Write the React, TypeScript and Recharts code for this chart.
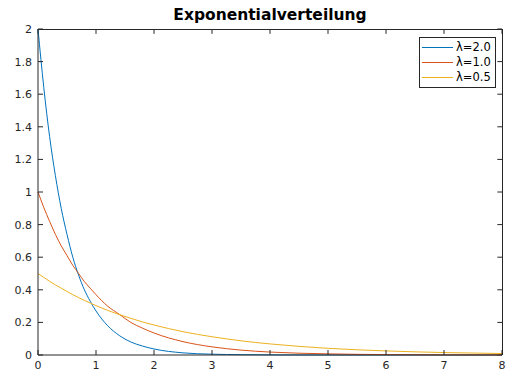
import React from 'react';
import { LineChart, Line, XAxis, YAxis, ReferenceLine } from 'recharts';

// x positions sampled along the curves
const xs = [0, 0.1, 0.2, 0.3, 0.4, 0.5, 0.6, 0.7, 0.8, 0.9, 1.0, 1.2, 1.4, 1.6, 1.8, 2.0, 2.5, 3, 3.5, 4, 5, 6, 7, 8];

// values
const lambda20 = [2.0, 1.64, 1.34, 1.1, 0.9, 0.74, 0.6, 0.49, 0.4, 0.33, 0.27, 0.18, 0.12, 0.08, 0.055, 0.037, 0.013, 0.005, 0.002, 0.0007, 0.0001, 0, 0, 0];
const lambda10 = [1.0, 0.905, 0.82, 0.74, 0.67, 0.61, 0.55, 0.5, 0.45, 0.41, 0.37, 0.3, 0.25, 0.2, 0.165, 0.135, 0.082, 0.05, 0.03, 0.018, 0.007, 0.0025, 0.0009, 0.0003];
const lambda05 = [0.5, 0.476, 0.452, 0.43, 0.41, 0.39, 0.37, 0.352, 0.335, 0.319, 0.303, 0.274, 0.248, 0.225, 0.203, 0.184, 0.143, 0.112, 0.087, 0.068, 0.041, 0.025, 0.015, 0.009];

const xTicks = [0, 1, 2, 3, 4, 5, 6, 7, 8];
const yTicks = [0, 0.2, 0.4, 0.6, 0.8, 1, 1.2, 1.4, 1.6, 1.8, 2];

const series = [
  { key: 'l20', name: 'λ=2.0', color: '#0072BD' },
  { key: 'l10', name: 'λ=1.0', color: '#D95319' },
  { key: 'l05', name: 'λ=0.5', color: '#EDB120' },
];

const data = xs.map((x, i) => ({ x, l20: lambda20[i], l10: lambda10[i], l05: lambda05[i] }));

const axisColor = '#262626';
const font = 'DejaVu Sans, sans-serif';
const xMax = xTicks[xTicks.length - 1];
const yMax = yTicks[yTicks.length - 1];

const MatlabLegend = () => (
  <div
    style={{
      position: 'absolute',
      left: 419,
      top: 37,
      width: 77,
      boxSizing: 'border-box',
      border: '1px solid #262626',
      background: '#fff',
      padding: '2px 0 2px 2px',
      fontFamily: font,
      fontSize: 11.5,
      color: '#000',
      lineHeight: '15px',
    }}
  >
    {series.map((s) => (
      <div key={s.key} style={{ display: 'flex', alignItems: 'center' }}>
        <div style={{ width: 31, height: 1, background: s.color, marginRight: 3 }} />
        <span>{s.name}</span>
      </div>
    ))}
  </div>
);

export default function App() {
  return (
    <div style={{ position: 'absolute', left: 0, top: 0, width: 520, height: 380, background: '#fff' }}>
      <LineChart width={520} height={380} data={data} margin={{ top: 29, right: 18, left: 0, bottom: 0 }}>
        <XAxis
          dataKey="x"
          type="number"
          domain={[0, xMax]}
          ticks={xTicks}
          height={25}
          stroke={axisColor}
          tickSize={-5}
          tickMargin={11}
          tick={{ fill: axisColor, fontSize: 11, fontFamily: font }}
        />
        <YAxis
          domain={[0, yMax]}
          ticks={yTicks}
          width={38}
          stroke={axisColor}
          tickSize={-5}
          tickMargin={11}
          tick={{ fill: axisColor, fontSize: 11, fontFamily: font }}
        />
        {/* inward ticks on the top and right edges */}
        {xTicks.map((t) => (
          <ReferenceLine
            key={`tx${t}`}
            segment={[{ x: t, y: yMax }, { x: t, y: yMax * 0.985 }]}
            stroke={axisColor}
            ifOverflow="visible"
          />
        ))}
        {yTicks.map((t) => (
          <ReferenceLine
            key={`ty${t}`}
            segment={[{ x: xMax, y: t }, { x: xMax * 0.99, y: t }]}
            stroke={axisColor}
            ifOverflow="visible"
          />
        ))}
        {series.map((s) => (
          <Line
            key={s.key}
            type="monotone"
            dataKey={s.key}
            name={s.name}
            stroke={s.color}
            strokeWidth={1}
            dot={false}
            isAnimationActive={false}
          />
        ))}
      </LineChart>
      {/* top and right edges of the axes box */}
      <div
        style={{
          position: 'absolute',
          left: 38,
          top: 29,
          width: 465,
          height: 326,
          boxSizing: 'border-box',
          borderTop: `1px solid ${axisColor}`,
          borderRight: `1px solid ${axisColor}`,
          pointerEvents: 'none',
        }}
      />
      <div
        style={{
          position: 'absolute',
          left: 38,
          width: 464,
          top: 6,
          textAlign: 'center',
          fontFamily: font,
          fontWeight: 'bold',
          fontSize: 15.5,
          color: '#000',
        }}
      >
        Exponentialverteilung
      </div>
      <MatlabLegend />
    </div>
  );
}
